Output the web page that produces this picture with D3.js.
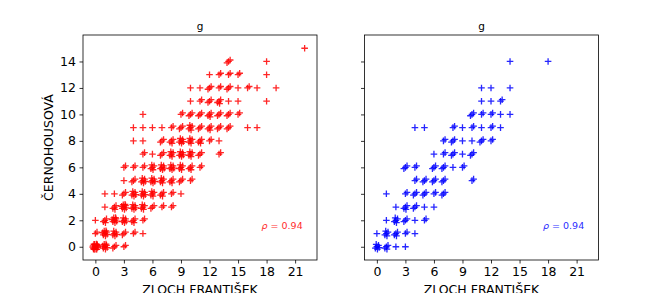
<!DOCTYPE html>
<html>
<head>
<meta charset="utf-8">
<script src="https://cdn.jsdelivr.net/npm/d3@7"></script>
<style>
  body { margin: 0; background: #fff; }
  text { font-family: "DejaVu Sans", sans-serif; }
</style>
</head>
<body>
<div id="chart"></div>
<script>
// cells: [x, y, how many markers sit on that spot]
var redCells = [
  [0,0,15],[1,0,8],[2,0,3],[3,0,2],
  [0,1,2],[1,1,8],[2,1,6],[3,1,3],[4,1,2],[5,1,1],
  [0,2,1],[1,2,4],[2,2,8],[3,2,6],[4,2,4],[5,2,2],
  [1,3,1],[2,3,4],[3,3,8],[4,3,6],[5,3,5],[6,3,3],[7,3,2],[8,3,2],
  [1,4,1],[2,4,1],[3,4,3],[4,4,6],[5,4,6],[6,4,5],[7,4,4],[8,4,2],[9,4,1],
  [3,5,1],[4,5,3],[5,5,6],[6,5,6],[7,5,5],[8,5,4],[9,5,3],[10,5,2],
  [3,6,2],[4,6,2],[5,6,2],[6,6,5],[7,6,6],[8,6,6],[9,6,5],[10,6,4],[11,6,2],
  [5,7,2],[6,7,1],[7,7,3],[8,7,5],[9,7,6],[10,7,5],[11,7,3],[13,7,2],
  [4,8,1],[5,8,1],[7,8,3],[8,8,4],[9,8,6],[10,8,5],[11,8,4],[12,8,2],[13,8,1],
  [4,9,1],[5,9,1],[6,9,1],[7,9,1],[8,9,2],[9,9,3],[10,9,5],[11,9,3],[12,9,4],[13,9,3],[14,9,3],[16,9,1],[17,9,1],
  [5,10,1],[9,10,2],[10,10,3],[11,10,3],[12,10,4],[13,10,3],[14,10,3],[15,10,2],
  [10,11,1],[11,11,2],[12,11,3],[13,11,4],[14,11,1],[15,11,1],[18,11,1],
  [10,12,1],[11,12,1],[12,12,3],[13,12,2],[14,12,3],[15,12,1],[16,12,2],[17,12,1],[19,12,1],
  [12,13,1],[13,13,2],[14,13,2],[15,13,2],[18,13,1],
  [14,14,3],[18,14,1],
  [22,15,1]
];

var blueCells = [
  [0,0,6],[1,0,4],[2,0,1],[3,0,1],
  [0,1,1],[1,1,5],[2,1,4],[3,1,2],[4,1,1],
  [1,2,1],[2,2,5],[3,2,3],[4,2,1],[5,2,2],
  [2,3,1],[3,3,4],[4,3,3],[5,3,1],[6,3,1],
  [1,4,1],[3,4,2],[4,4,3],[5,4,3],[6,4,2],[7,4,3],
  [4,5,2],[5,5,3],[6,5,3],[7,5,3],[10,5,2],
  [3,6,3],[4,6,2],[6,6,3],[7,6,3],[8,6,1],[9,6,2],
  [6,7,1],[7,7,2],[8,7,3],[9,7,1],[10,7,3],
  [7,8,2],[8,8,3],[9,8,1],[10,8,1],[11,8,3],[12,8,2],
  [4,9,1],[5,9,1],[8,9,2],[9,9,1],[10,9,2],[11,9,1],[12,9,2],[13,9,1],
  [10,10,3],[11,10,2],[12,10,2],[13,10,1],[14,10,1],
  [11,11,1],[12,11,1],[13,11,2],
  [11,12,1],[12,12,1],[14,12,1],
  [14,14,1],[18,14,1]
];

var xTicks = [0, 3, 6, 9, 12, 15, 18, 21];
var yTicks = [0, 2, 4, 6, 8, 10, 12, 14];
var rho = "0.94";

// fixed spread so stacked markers show as a round blob (data units)
var spread = [[0,0],[0.17,0.11],[-0.16,-0.1],[0.06,-0.18],[-0.07,0.18],[0.24,-0.06],
              [-0.24,0.06],[0.12,0.2],[-0.12,-0.2],[0.2,0.16],[-0.2,-0.16],[0.15,-0.19],
              [-0.15,0.19],[0.28,0.03],[-0.28,-0.03],[0.02,0.25]];

var width = 665, height = 293;
var axW = 234, axH = 225, axTop = 35;

var x = d3.scaleLinear().domain([-1.3, 23.3]).range([0, axW]);
var y = d3.scaleLinear().domain([-1.0, 16.0]).range([axH, 0]);

var svg = d3.select("#chart").append("svg")
    .attr("width", width)
    .attr("height", height);

function expand(cells) {
  var pts = [];
  cells.forEach(function(c) {
    for (var k = 0; k < c[2]; k++) {
      var o = spread[k % spread.length];
      pts.push({x: c[0] + o[0], y: c[1] + o[1]});
    }
  });
  return pts;
}

function drawPanel(left, cells, color, showYLabels) {
  var g = svg.append("g").attr("transform", "translate(" + left + "," + axTop + ")");

  g.append("g")
      .attr("transform", "translate(0," + axH + ")")
      .call(d3.axisBottom(x).tickValues(xTicks).tickSize(3.5).tickPadding(3.5))
      .call(function(a) { a.select(".domain").remove(); })
      .selectAll("text").style("font-size", "12.5px").attr("fill", "#000");

  var ya = d3.axisLeft(y).tickValues(yTicks).tickSize(3.5).tickPadding(3.5);
  if (!showYLabels) ya.tickFormat("");
  g.append("g")
      .call(ya)
      .call(function(a) { a.select(".domain").remove(); })
      .selectAll("text").style("font-size", "12.5px").attr("fill", "#000");

  g.selectAll(".tick line").attr("stroke", "#000").attr("stroke-width", 0.8);

  g.selectAll(".mark")
      .data(expand(cells))
      .enter().append("path")
      .attr("class", "mark")
      .attr("d", "M-3.3,0H3.3M0,-3.3V3.3")
      .attr("transform", function(d) { return "translate(" + x(d.x) + "," + y(d.y) + ")"; })
      .attr("stroke", color)
      .attr("stroke-width", 1.3)
      .attr("fill", "none")
      .attr("opacity", 0.85);

  g.append("rect")
      .attr("width", axW).attr("height", axH)
      .attr("fill", "none").attr("stroke", "#000").attr("stroke-width", 0.8);

  g.append("text")
      .attr("x", axW / 2).attr("y", -5)
      .attr("text-anchor", "middle")
      .style("font-size", "10.5px")
      .text("g");

  var ann = g.append("text")
      .attr("x", 178.5).attr("y", 194)
      .style("font-size", "9.5px")
      .attr("fill", color)
      .attr("opacity", 0.85);
  ann.append("tspan").style("font-style", "italic").text("ρ");
  ann.append("tspan").text(" = " + rho);

  g.append("text")
      .attr("x", axW / 2).attr("y", axH + 34)
      .attr("text-anchor", "middle")
      .style("font-size", "12.5px")
      .text("ZLOCH FRANTIŠEK");

  if (showYLabels) {
    g.append("text")
        .attr("transform", "translate(-30," + (axH / 2) + ") rotate(-90)")
        .attr("text-anchor", "middle")
        .style("font-size", "12.5px")
        .text("ČERNOHOUSOVÁ");
  }
}

drawPanel(83, redCells, "#ff0000", true);
drawPanel(364.5, blueCells, "#0000ff", false);
</script>
</body>
</html>
